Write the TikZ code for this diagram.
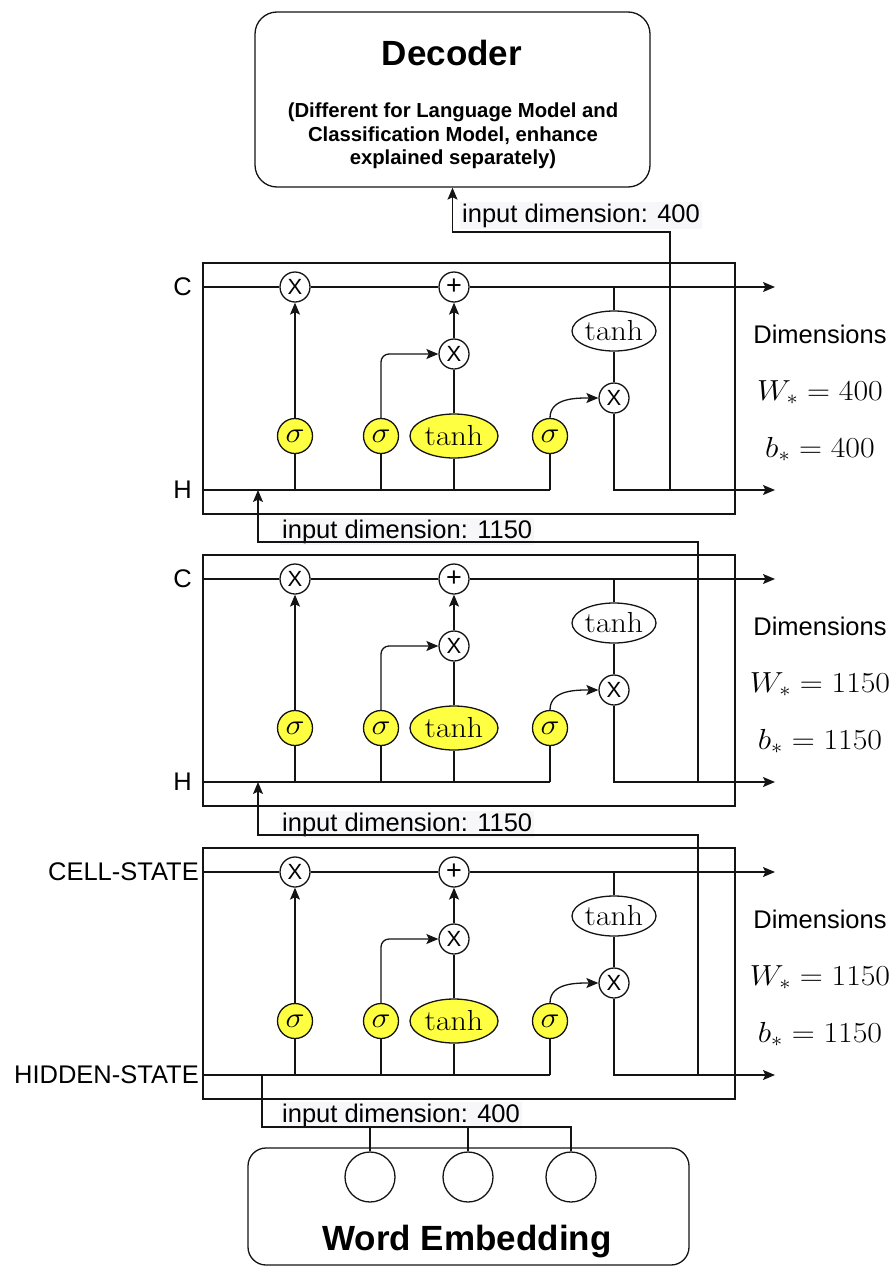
\RequirePackage{fix-cm}
\documentclass[tikz,border=0pt]{standalone}
\usepackage{fontspec}
\usepackage{graphicx}
\usetikzlibrary{positioning,arrows.meta,calc,shapes.geometric}
\newfontfamily\lsans{Liberation Sans}
\definecolor{gateyel}{RGB}{255,255,66}
\definecolor{lblbg}{RGB}{247,247,249}
\definecolor{lnk}{RGB}{20,20,20}
\newcommand{\wm}[1]{\scalebox{1.1}[1]{$#1$}}
\tikzset{
  lstm/.style={draw=lnk,line width=1.3pt,inner sep=0pt},
  op/.style={circle,draw=lnk,line width=1.3pt,fill=white,minimum size=30pt,inner sep=0pt,
    font=\lsans\fontsize{22}{26}\selectfont},
  gate/.style={circle,draw=lnk,line width=1.3pt,fill=gateyel,minimum size=35pt,inner sep=0pt,
    font=\fontsize{29}{33}\selectfont},
  act/.style={ellipse,draw=lnk,line width=1.3pt,fill=white,minimum width=84pt,minimum height=40pt,
    inner sep=0pt,font=\fontsize{29}{33}\selectfont},
  rbox/.style={draw=lnk,line width=1.3pt,rounded corners=22pt,inner sep=0pt},
  embc/.style={circle,draw=lnk,line width=1.3pt,minimum size=50pt,inner sep=0pt},
  txt/.style={font=\lsans\fontsize{25.5}{30}\selectfont,inner sep=0pt},
  mth/.style={font=\fontsize{29}{33}\selectfont,inner sep=0pt,anchor=base},
  dimlbl/.style={txt,fill=lblbg,inner sep=2pt,anchor=base west},
  ln/.style={draw=lnk,line width=1.3pt},
  fl/.style={ln,-{Stealth[length=12pt,width=10pt,inset=2.5pt]}},
}
\begin{document}
\begin{tikzpicture}[x=1pt,y=-1pt]
\useasboundingbox (0,0) rectangle (896,1266);
% decoder on top
\node[rbox,minimum width=395pt,minimum height=175pt] (dec) at (452.5,99.5) {};
\node[txt,font=\lsans\bfseries\fontsize{35}{40}\selectfont] (dectitle) at (452,53) {Decoder};
\node[txt,font=\lsans\bfseries\fontsize{20.3}{23.5}\selectfont,align=center] (decnote) at (453,136)
  {(Different for Language Model and\\Classification Model, enhance\\explained separately)};
% word embedding at the bottom
\node[rbox,rounded corners=18pt,minimum width=441pt,minimum height=117pt] (emb) at (468.5,1206.5) {};
\foreach \j/\ex in {1/370,2/468,3/571}
  \node[embc] (e\j) at (\ex,1177) {};
\node[txt,font=\lsans\bfseries\fontsize{35}{40}\selectfont,anchor=base] (embtitle) at (467,1250) {Word Embedding};
% three lstm layers
\foreach \i/\yc/\cl/\hl/\lx/\dm/\ux in {1/287/C/H/192/400/670,2/579/C/H/192/1150/698,
    3/872/CELL-STATE/HIDDEN-STATE/199/1150/698}{
  \node[lstm,minimum width=532pt,minimum height=251pt] (box\i) at (469,\yc+101.5) {};
  \node[txt,anchor=east] (cl\i) at (\lx,\yc) {\cl};
  \node[txt,anchor=east] (hl\i) at (\lx,\yc+203) {\hl};
  \coordinate (cin\i) at (203,\yc);
  \coordinate (cout\i) at (775,\yc);
  \coordinate (hin\i) at (203,\yc+203);
  \coordinate (hout\i) at (775,\yc+203);
  \coordinate (up\i) at (\ux,\yc+203);
  \coordinate (in\i) at (258,\yc+203);
  \node[op] (fx\i) at (295,\yc) {X};
  \node[op,font=\lsans\fontsize{27}{30}\selectfont] (ad\i) at (454,\yc) {+};
  \node[act] (th\i) at (614,\yc+44) {\wm{\tanh}};
  \node[op] (ix\i) at (454,\yc+67) {X};
  \node[op] (ox\i) at (614,\yc+111) {X};
  \node[gate] (fg\i) at (295,\yc+149) {\wm{\sigma}};
  \node[gate] (ig\i) at (381,\yc+149) {\wm{\sigma}};
  \node[act,fill=gateyel,minimum width=88pt,minimum height=44pt] (cg\i) at (454,\yc+149) {\wm{\tanh}};
  \node[gate] (og\i) at (550,\yc+149) {\wm{\sigma}};
  \node[txt,anchor=base] (dn\i) at (820,\yc+56) {Dimensions};
  \node[mth] (dw\i) at (820,\yc+113) {\wm{W_* = \dm}};
  \node[mth] (db\i) at (820,\yc+170) {\wm{b_* = \dm}};
  \draw[fl] (cin\i) -- (fx\i) -- (ad\i) -- (cout\i);
  \draw[ln] (hin\i) -- (hin\i -| og\i);
  \draw[ln] (fg\i) -- (fg\i |- hin\i);
  \draw[ln] (ig\i) -- (ig\i |- hin\i);
  \draw[ln] (cg\i) -- (cg\i |- hin\i);
  \draw[ln] (og\i) -- (og\i |- hin\i);
  \draw[fl] (fg\i) -- (fx\i);
  \draw[fl,rounded corners=8pt] (ig\i) |- (ix\i);
  \draw[ln] (cg\i) -- (ix\i);
  \draw[fl] (ix\i) -- (ad\i);
  \draw[fl] (og\i.north) to[out=90,in=180] (ox\i.west);
  \draw[ln] (ox\i) -- (th\i);
  \draw[ln] (th\i) -- (th\i |- cin\i);
  \draw[fl] (ox\i) |- (hout\i);
}
% links between layers
\node[dimlbl] (lk1) at (460,222) {input dimension: 400};
\node[dimlbl] (lk2) at (280,538) {input dimension: 1150};
\node[dimlbl] (lk3) at (280,831) {input dimension: 1150};
\node[dimlbl] (lk4) at (280,1122) {input dimension: 400};
\coordinate (t1) at (670,232);
\coordinate (t2) at (698,542);
\coordinate (t3) at (698,835);
\coordinate (bus) at (262,1127);
\draw[fl] (up1) -- (t1) -| (dec);
\draw[fl] (up2) -- (t2) -| (in1);
\draw[fl] (up3) -- (t3) -| (in2);
\draw[ln] (bus |- hin3) -- (bus) -| (e3);
\draw[ln] (e1) -- (e1 |- bus);
\draw[ln] (e2) -- (e2 |- bus);
\end{tikzpicture}
\end{document}
